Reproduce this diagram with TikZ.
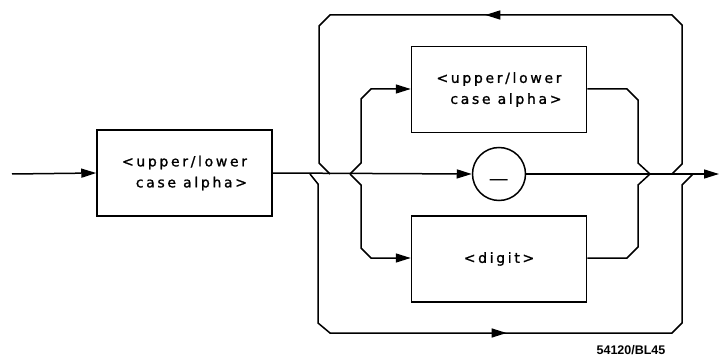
\documentclass[tikz,border=0pt]{standalone}
\usepackage{fontspec}
\usepackage{graphicx}
\setmainfont{Liberation Sans}
\newfontfamily\hpfont[LetterSpace=19,FakeBold=1.2]{DejaVu Sans}
\newfontfamily\tagfont{Liberation Sans}
\usetikzlibrary{arrows.meta,decorations.markings}
\tikzset{
  ln/.style={line width=1.5pt, line join=miter},
  tip/.style={-{Triangle[length=15pt,width=9pt]}},
  midarrow/.style={postaction={decorate}, decoration={markings,
    mark=at position #1 with {\arrow{Triangle[length=15pt,width=9pt]}}}},
  box/.style={draw, line width=1.5pt, minimum width=175pt, minimum height=86pt,
    inner sep=0pt, align=right, font=\hpfont\fontsize{14}{21}\selectfont},
  bubble/.style={draw, circle, line width=1.5pt, minimum size=53pt, inner sep=0pt,
    font=\tagfont\bfseries\fontsize{12}{14}\selectfont},
  tag/.style={font=\tagfont\bfseries\fontsize{12.5}{14}\selectfont, inner sep=0pt}
}
\begin{document}
\begin{tikzpicture}[x=1pt,y=-1pt]
\useasboundingbox (0,0) rectangle (720,358);
% nodes
\node[box] (a1) at (184.5,173) {<upper/lower\\case alpha>};
\node[box] (a2) at (499,89.5) {<upper/lower\\case alpha>};
\node[box] (dg) at (499,259) {<digit>};
\node[bubble] (us) at (499,174) {\raisebox{-3pt}[0pt][0pt]{\scalebox{2.6}[3]{\_}}};
\node[tag] (lbl) at (631,350) {54120/BL45};
% coordinates
\coordinate (in) at (12,174);
\coordinate (out) at (719,174);
\coordinate (bl) at (310,174);
\coordinate (tl) at (330,174);
\coordinate (sp) at (350,174);
\coordinate (mg) at (650,174);
\coordinate (tr) at (672,174);
\coordinate (br) at (693,174);
% main line
\draw[ln,tip] (in) -- (a1.west);
\draw[ln,tip] (a1.east) -- (us.west);
\draw[ln,tip] (us.east) -- (out);
% upper inner branch
\draw[ln,tip] (sp) -- (361,163) -- (361,99) -- (371,89) -- (a2.west |- 0,89);
\draw[ln] (a2.east |- 0,89) -- (627,89) -- (638,100) -- (638,163) -- (mg);
% lower inner branch
\draw[ln,tip] (sp) -- (361,185) -- (361,248) -- (371,258) -- (dg.west |- 0,258);
\draw[ln] (dg.east |- 0,258) -- (627,258) -- (638,247) -- (638,185) -- (mg);
% top loop (back)
\draw[ln,midarrow=354pt] (tr) -- (682,164) -- (682,25) -- (672,15) -- (330,15) -- (319,26) -- (319,163) -- (tl);
% bottom loop (skip)
\draw[ln,midarrow=344pt] (bl) -- (318,184) -- (318,323) -- (330,333) -- (672,333) -- (682,323) -- (682,185) -- (br);
\end{tikzpicture}
\end{document}
